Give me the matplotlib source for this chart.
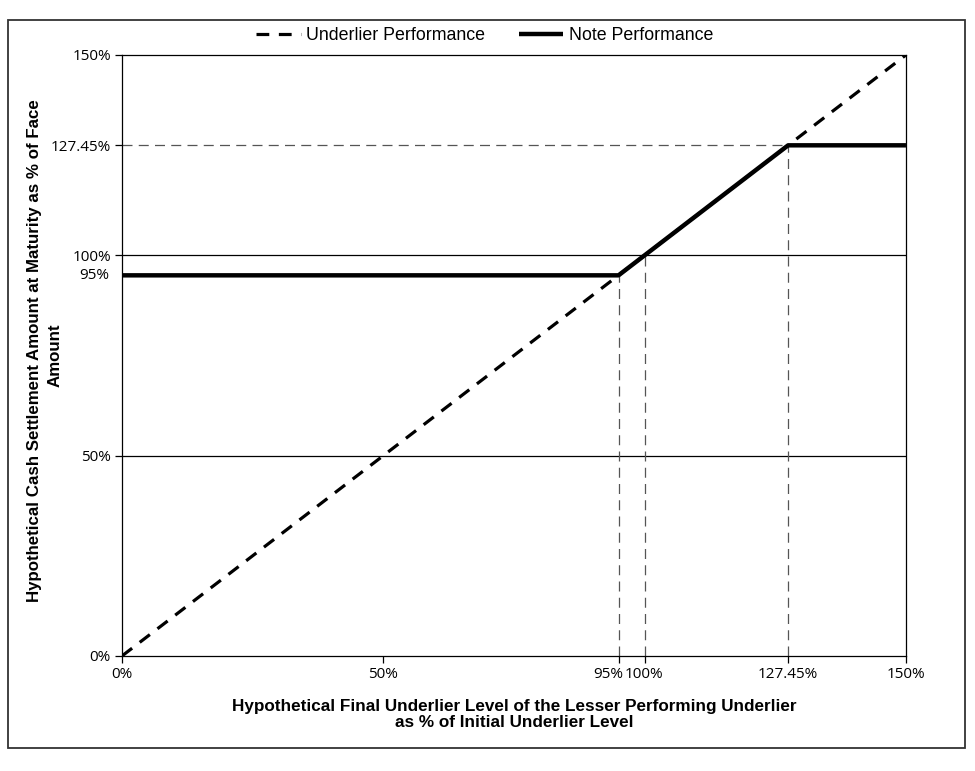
import matplotlib.pyplot as plt
import matplotlib.transforms as mtransforms
from matplotlib.patches import Rectangle

plt.rcParams['font.family'] = ['Liberation Sans', 'DejaVu Sans']

# --- data ---
underlier_x = [0, 150]
underlier_y = [0, 150]
note_x = [0, 95, 127.45, 150]
note_y = [95, 95, 127.45, 127.45]

buffer_level = 95
initial_level = 100
cap_level = 127.45

x_ticks = [0, 50, 95, 100, 127.45, 150]
x_labels = ['0%', '50%', '95%', '100%', '127.45%', '150%']
y_ticks = [0, 50, 100, 127.45, 150]
y_labels = ['0%', '50%', '100%', '127.45%', '150%']
grid_levels = [50, 100]

tick_font = ['Open Sans', 'DejaVu Sans']

fig = plt.figure(figsize=(9.75, 7.71), dpi=100)
ax = fig.add_axes([0.1251, 0.1492, 0.8041, 0.7795])

# reference lines
for lvl in grid_levels:
    ax.axhline(lvl, color='black', lw=0.9, zorder=1)
ax.plot([0, cap_level], [cap_level, cap_level], color='#555555', lw=0.9,
        dashes=(8, 5), zorder=1)
for v in [buffer_level, initial_level, cap_level]:
    ax.plot([v, v], [0, v], color='#555555', lw=0.9, dashes=(8, 5), zorder=1)

ax.plot(underlier_x, underlier_y, color='black', lw=2.3, dashes=(4, 3),
        label='Underlier Performance', zorder=2)
ax.plot(note_x, note_y, color='black', lw=3.2, solid_capstyle='butt',
        label='Note Performance', zorder=3)

ax.set_xlim(0, 150)
ax.set_ylim(0, 150)
ax.set_xticks(x_ticks)
ax.set_xticklabels(x_labels, fontsize=11, family=tick_font)
ax.set_yticks(y_ticks)
ax.set_yticklabels(y_labels, fontsize=11, family=tick_font)
ax.tick_params(axis='both', direction='out', length=5, width=0.9, pad=3)

# 95% and 100% labels sit side by side
lbls = ax.get_xticklabels()
lbls[2].set_horizontalalignment('right')
lbls[2].set_transform(lbls[2].get_transform() +
                      mtransforms.ScaledTranslation(5 / 100, 0, fig.dpi_scale_trans))
lbls[3].set_transform(lbls[3].get_transform() +
                      mtransforms.ScaledTranslation(-1 / 100, 0, fig.dpi_scale_trans))

ax.text(-2.4, 95, '95%', ha='right', va='center', fontsize=11, family=tick_font)
for s in ax.spines.values():
    s.set_linewidth(0.9)

ax.set_xlabel('Hypothetical Final Underlier Level of the Lesser Performing Underlier\n'
              'as % of Initial Underlier Level', fontsize=12.3, fontweight='bold',
              labelpad=12, linespacing=1.12)
fig.text(35 / 975, 1 - 351 / 771,
         'Hypothetical Cash Settlement Amount at Maturity as % of Face',
         rotation=90, ha='center', va='center', fontsize=12.2, fontweight='bold')
fig.text(55 / 975, 1 - 355 / 771, 'Amount',
         rotation=90, ha='center', va='center', fontsize=12.2, fontweight='bold')

fig.legend(loc='center', bbox_to_anchor=(0.497, 0.954), ncol=2, frameon=False,
           fontsize=12.8, handlelength=2.5, columnspacing=1.9, handletextpad=0.3)

fig.patches.append(Rectangle((0.0082, 0.0298), 0.9815, 0.944, transform=fig.transFigure,
                             fill=False, edgecolor='#333333', lw=1.3))

fig.savefig('out.png', dpi=100, facecolor='white')
